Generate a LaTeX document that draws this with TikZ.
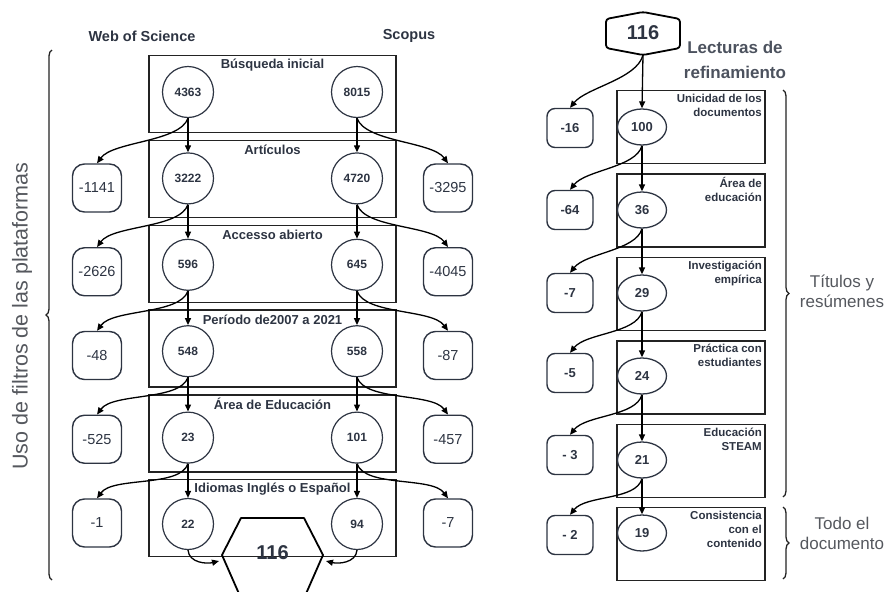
\documentclass[tikz,border=0pt]{standalone}
\usepackage{fontspec}
\setmainfont{Liberation Sans}
\usetikzlibrary{arrows.meta, shapes.geometric, decorations.pathreplacing}
\definecolor{prtext}{RGB}{45,52,66}
\definecolor{prline}{RGB}{35,35,35}
\definecolor{prgray}{RGB}{85,88,94}

\tikzset{
  hdr/.style={prtext, font=\fontsize{14.5}{16}\selectfont\bfseries},
  stagebox/.style={draw=prline, line width=1.3pt, inner sep=0pt},
  stagettl/.style={prtext, font=\fontsize{13}{15}\selectfont\bfseries},
  cnt/.style={draw=black, circle, line width=1.2pt, minimum size=51pt, inner sep=0pt,
    prtext, font=\fontsize{12}{14}\selectfont\bfseries},
  dropbox/.style={draw=black, line width=1.4pt, rounded corners=12pt, minimum width=49pt,
    minimum height=48pt, inner sep=0pt, prtext, font=\fontsize{14.5}{16}\selectfont},
  refcnt/.style={draw=black, ellipse, line width=1.3pt, minimum width=49pt, minimum height=36pt,
    inner sep=0pt, prtext, font=\fontsize{13}{15}\selectfont\bfseries},
  refdrop/.style={draw=black, line width=1.4pt, rounded corners=8pt, minimum width=46pt,
    minimum height=39pt, inner sep=0pt, prtext, font=\fontsize{13}{15}\selectfont\bfseries},
  refttl/.style={prtext, anchor=north east, align=right, inner sep=0pt,
    font=\fontsize{11.5}{14}\selectfont\bfseries},
  hexline/.style={draw=black, line width=1.8pt, line join=round},
  flow/.style={-{Triangle[length=7pt,width=6pt]}, line width=1.3pt, black},
  brc/.style={decorate, decoration={brace, amplitude=6pt}, line width=1.3pt, prline},
  sidelbl/.style={prgray, align=center, font=\fontsize{17}{20}\selectfont},
}

\begin{document}
\begin{tikzpicture}[x=1pt, y=1pt]
\useasboundingbox (0,0) rectangle (887,-592);

% headers
\node[hdr] (wos) at (142,-36) {Web of Science};
\node[hdr] (scp) at (409,-36) {Scopus};

% ---- platform filters ----
\foreach \i/\ttl/\nw/\ns in {1/{Búsqueda inicial}/4363/8015,
    2/Artículos/3222/4720,
    3/{Accesso abierto}/596/645,
    4/{Período de2007 a 2021}/548/558,
    5/{Área de Educación}/23/101,
    6/{Idiomas Inglés o Español}/22/94}{
  \pgfmathsetmacro{\bt}{55+84.8*(\i-1)}
  \pgfmathsetmacro{\cy}{92+86.4*(\i-1)}
  \node[stagebox, minimum width=247pt, minimum height=77pt, anchor=north] (fb\i) at (272.5,-\bt) {};
  \node[stagettl] (ft\i) at (272.5,{-\bt-10}) {\ttl};
  \node[cnt] (cw\i) at (188,-\cy) {\nw};
  \node[cnt] (cs\i) at (357,-\cy) {\ns};
}

% removed records
\foreach \i/\dw/\ds in {2/-1141/-3295, 3/-2626/-4045, 4/-48/-87, 5/-525/-457, 6/-1/-7}{
  \pgfmathsetmacro{\sy}{188+83.75*(\i-2)}
  \node[dropbox] (dw\i) at (97,-\sy) {\dw};
  \node[dropbox] (ds\i) at (448,-\sy) {\ds};
}

\foreach \i in {2,...,6}{
  \pgfmathtruncatemacro{\j}{\i-1}
  \draw[flow] (cw\j.south) -- (cw\i.north);
  \draw[flow] (cs\j.south) -- (cs\i.north);
  \draw[flow] (cw\j.south) .. controls +(-8,-24) and +(16,22) .. (dw\i.north);
  \draw[flow] (cs\j.south) .. controls +(8,-24) and +(-16,22) .. (ds\i.north);
}

% total
\draw[hexline] (222,-555) -- (241,-518) -- (304,-518) -- (323,-555) -- (305,-596) -- (240,-596) -- cycle;
\node[prtext, font=\fontsize{20}{22}\selectfont\bfseries] (tot) at (272.5,-553) {116};
\coordinate (totw) at (219,-561);
\coordinate (tote) at (326,-561);
\draw[flow] (cw6.south) .. controls +(1,-13) and +(-12,-3) .. (totw);
\draw[flow] (cs6.south) .. controls +(-1,-13) and +(12,-3) .. (tote);

\draw[brc] (52,-580) -- (52,-50);
\node[sidelbl, rotate=90, font=\fontsize{21.5}{24}\selectfont] (ufp) at (22,-316)
  {Uso de filtros de las plataformas};

% ---- refinement readings ----
\draw[hexline, rounded corners=3pt] (606,-19) -- (643,-12) -- (680,-19) -- (680,-48) -- (643,-55) -- (606,-48) -- cycle;
\node[prtext, font=\fontsize{20}{22}\selectfont\bfseries] (rtop) at (643,-33) {116};
\coordinate (rtops) at (643,-55);
\node[prtext!85!white, align=center, font=\fontsize{17}{25}\selectfont\bfseries] (lect) at (735,-60)
  {Lecturas de\\refinamiento};

\foreach \i/\ttl/\n/\d/\ey/\dy in {1/{Unicidad de los\\documentos}/100/-16/127/128,
    2/{Área de\\educación}/36/-64/210/210,
    3/{Investigación\\empírica}/29/-7/293/293,
    4/{Práctica con\\estudiantes}/24/-5/376/373,
    5/{Educación\\STEAM}/21/- 3/460/455,
    6/{Consistencia\\con el\\contenido}/19/- 2/533/535}{
  \pgfmathsetmacro{\bt}{90+83.4*(\i-1)}
  \node[stagebox, minimum width=148pt, minimum height=73pt, anchor=north] (rb\i) at (691,-\bt) {};
  \node[refttl] (rt\i) at (762,{-\bt-4}) {\ttl};
  \node[refcnt] (re\i) at (642,-\ey) {\n};
  \node[refdrop] (rd\i) at (570,-\dy) {\d};
}

\draw[flow] (rtops) -- (re1.north);
\draw[flow] (rtops) .. controls +(-6,-24) and +(16,20) .. (rd1.north);
\foreach \i in {2,...,6}{
  \pgfmathtruncatemacro{\j}{\i-1}
  \draw[flow] (re\j.south) -- (re\i.north);
  \draw[flow] (re\j.south) .. controls +(-6,-22) and +(16,20) .. (rd\i.north);
}

\draw[brc] (783,-90) -- (783,-497);
\draw[brc] (783,-507) -- (783,-579);
\node[sidelbl] (tyr) at (842,-291) {Títulos y\\resúmenes};
\node[sidelbl] (tdd) at (842,-533) {Todo el\\documento};
\end{tikzpicture}
\end{document}
